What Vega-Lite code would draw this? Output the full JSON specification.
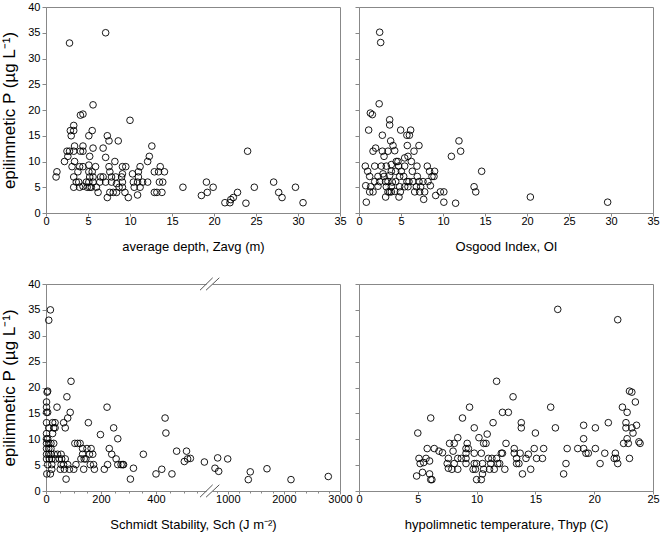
{
  "$schema": "https://vega.github.io/schema/vega-lite/v6.json",
  "padding": {"left": 0, "top": 0, "right": 0, "bottom": 0},
  "config": {
    "font": "Liberation Sans",
    "view": {"stroke": "#888888", "strokeWidth": 1},
    "axis": {"grid": false, "domainColor": "#888888", "tickColor": "#888888", "tickSize": 4, "labelFontSize": 11, "labelColor": "#000000", "titleFontSize": 13, "titleFontWeight": "normal", "titleColor": "#000000", "labelPadding": 2, "labelOverlap": false, "labelBound": false, "labelFlush": false},
    "axisX": {"tickSize": 3, "labelPadding": -1, "titlePadding": 14},
    "axisY": {"titleFontSize": 17, "titlePadding": 9},
    "point": {"shape": "circle", "size": 44, "filled": false, "stroke": "#000000", "strokeWidth": 0.9, "opacity": 1}
  },
  "datasets": {
    "a": [{"x":1.2,"y":7},{"x":1.3,"y":8},{"x":2.8,"y":33},{"x":7.1,"y":35},{"x":5.6,"y":21},{"x":4.1,"y":19},{"x":4.4,"y":19.2},{"x":10,"y":18},{"x":3.3,"y":17},{"x":2.9,"y":16},{"x":3.3,"y":16},{"x":3.0,"y":15},{"x":5.1,"y":15},{"x":5.5,"y":16},{"x":7.3,"y":15},{"x":7.5,"y":14},{"x":8.6,"y":14},{"x":5.6,"y":12.6},{"x":6.8,"y":12.6},{"x":3.4,"y":13},{"x":4.4,"y":13},{"x":12.6,"y":13},{"x":2.5,"y":12},{"x":2.8,"y":12},{"x":3.3,"y":12},{"x":4.1,"y":12},{"x":4.4,"y":12},{"x":24,"y":12},{"x":2.6,"y":11},{"x":5.2,"y":11},{"x":12.3,"y":11},{"x":7.1,"y":10.8},{"x":2.2,"y":10},{"x":3.4,"y":10},{"x":8.2,"y":10},{"x":12.1,"y":10},{"x":3.1,"y":9},{"x":4.0,"y":9},{"x":4.4,"y":9},{"x":5.1,"y":9.3},{"x":5.9,"y":9},{"x":7.5,"y":9},{"x":9.1,"y":9},{"x":9.5,"y":9},{"x":11.2,"y":9},{"x":13.6,"y":9},{"x":3.8,"y":8},{"x":5.1,"y":8},{"x":5.5,"y":8},{"x":7.6,"y":8},{"x":9.1,"y":7.6},{"x":10.3,"y":7.6},{"x":11.0,"y":8},{"x":12.9,"y":8},{"x":13.4,"y":8},{"x":14.1,"y":8},{"x":3.3,"y":7},{"x":5.2,"y":7},{"x":5.6,"y":7},{"x":6.5,"y":7},{"x":6.8,"y":7},{"x":7.8,"y":7},{"x":8.3,"y":7},{"x":9.0,"y":7},{"x":11.0,"y":7},{"x":3.6,"y":6},{"x":3.9,"y":6},{"x":4.8,"y":6},{"x":5.1,"y":6},{"x":5.6,"y":6},{"x":6.4,"y":6},{"x":7.1,"y":6},{"x":7.8,"y":6},{"x":8.4,"y":5.7},{"x":9.1,"y":6},{"x":10.4,"y":6},{"x":10.9,"y":6},{"x":11.5,"y":6},{"x":12.1,"y":6},{"x":13.5,"y":6},{"x":13.9,"y":6},{"x":27.1,"y":6},{"x":19.1,"y":6},{"x":3.3,"y":5},{"x":4.0,"y":5},{"x":4.4,"y":5.2},{"x":4.9,"y":5},{"x":5.2,"y":5},{"x":5.4,"y":5},{"x":6.0,"y":5},{"x":8.7,"y":5},{"x":9.1,"y":5},{"x":10.5,"y":5},{"x":11.2,"y":5},{"x":16.3,"y":5},{"x":19.9,"y":5},{"x":24.8,"y":5},{"x":29.7,"y":5},{"x":6.2,"y":4},{"x":7.6,"y":4},{"x":8.0,"y":4},{"x":8.4,"y":4},{"x":9.4,"y":4},{"x":12.9,"y":4},{"x":13.2,"y":4},{"x":13.8,"y":4},{"x":19.2,"y":4},{"x":22.8,"y":4},{"x":27.7,"y":4},{"x":7.3,"y":3},{"x":9.8,"y":3},{"x":18.5,"y":3.4},{"x":10.9,"y":3.5},{"x":22.3,"y":3},{"x":28.1,"y":3},{"x":22.0,"y":2.6},{"x":21.3,"y":2},{"x":21.9,"y":2},{"x":23.8,"y":1.9},{"x":30.6,"y":2}],
    "b": [{"x":2.46,"y":35.1},{"x":2.58,"y":33.1},{"x":2.4,"y":21.2},{"x":1.35,"y":19.4},{"x":1.59,"y":19.1},{"x":3.65,"y":18.1},{"x":3.65,"y":17.1},{"x":1.15,"y":16.1},{"x":4.96,"y":16.1},{"x":6.15,"y":16.1},{"x":2.78,"y":15.1},{"x":5.7,"y":15.1},{"x":6.0,"y":15.1},{"x":3.77,"y":14},{"x":11.9,"y":14},{"x":4.05,"y":13.1},{"x":5.75,"y":13.1},{"x":7.14,"y":13.1},{"x":1.98,"y":12.6},{"x":1.67,"y":12},{"x":2.78,"y":12},{"x":3.45,"y":12},{"x":4.25,"y":12.1},{"x":6.55,"y":12},{"x":12.1,"y":12},{"x":5.83,"y":11},{"x":2.98,"y":11},{"x":5.44,"y":10.7},{"x":11.0,"y":11},{"x":4.44,"y":10},{"x":4.64,"y":10},{"x":6.23,"y":10},{"x":0.75,"y":9.1},{"x":1.87,"y":9.1},{"x":2.66,"y":9.1},{"x":3.25,"y":9.1},{"x":3.85,"y":9.4},{"x":4.72,"y":9.1},{"x":5.44,"y":9.1},{"x":6.9,"y":9.1},{"x":8.13,"y":9.1},{"x":1.03,"y":8.1},{"x":2.86,"y":7.6},{"x":3.85,"y":8.1},{"x":4.37,"y":8.1},{"x":5.04,"y":8.1},{"x":6.35,"y":8.1},{"x":8.4,"y":8.1},{"x":9.0,"y":8.1},{"x":14.6,"y":8.1},{"x":1.27,"y":7.1},{"x":2.26,"y":7.1},{"x":2.98,"y":7.1},{"x":3.65,"y":7.3},{"x":4.84,"y":7.1},{"x":5.32,"y":7.1},{"x":6.94,"y":7.1},{"x":8.69,"y":7.1},{"x":8.93,"y":7.1},{"x":1.87,"y":6.1},{"x":2.46,"y":6.1},{"x":3.17,"y":6.1},{"x":3.45,"y":6.1},{"x":3.97,"y":6},{"x":4.37,"y":6.1},{"x":5.71,"y":6.1},{"x":5.95,"y":6.1},{"x":6.43,"y":6.1},{"x":7.14,"y":6.1},{"x":7.62,"y":6.1},{"x":8.21,"y":6.1},{"x":0.8,"y":5.3},{"x":1.39,"y":5.1},{"x":2.26,"y":5.2},{"x":3.25,"y":5.1},{"x":3.85,"y":5.1},{"x":4.84,"y":5.1},{"x":5.44,"y":5.1},{"x":5.83,"y":5.1},{"x":6.83,"y":5.1},{"x":7.34,"y":5.1},{"x":8.5,"y":5.3},{"x":13.7,"y":5.1},{"x":1.27,"y":4.1},{"x":1.67,"y":4.1},{"x":3.45,"y":4.1},{"x":3.65,"y":4.1},{"x":3.85,"y":4.1},{"x":4.25,"y":4.2},{"x":4.92,"y":4.1},{"x":6.63,"y":4.1},{"x":7.22,"y":4.1},{"x":7.82,"y":4.1},{"x":9.68,"y":4.1},{"x":10.1,"y":4.1},{"x":13.9,"y":4.1},{"x":3.17,"y":3.1},{"x":4.76,"y":3.1},{"x":9.13,"y":3.4},{"x":20.4,"y":3.1},{"x":7.7,"y":2.65},{"x":0.87,"y":2.1},{"x":10.1,"y":2.1},{"x":11.5,"y":1.9},{"x":29.6,"y":2.1}],
    "c": [{"x":16,"y":35},{"x":10,"y":33},{"x":6,"y":19.3},{"x":4,"y":19.1},{"x":2,"y":17.2},{"x":2,"y":16.2},{"x":2,"y":15.2},{"x":6,"y":15.2},{"x":2,"y":13.2},{"x":2,"y":11.1},{"x":2,"y":10.1},{"x":2,"y":9.2},{"x":2,"y":8.2},{"x":2,"y":7.1},{"x":2,"y":6.2},{"x":3,"y":3.3},{"x":6,"y":5.1},{"x":6,"y":10.1},{"x":10,"y":12.2},{"x":10,"y":9.2},{"x":10,"y":8.2},{"x":10,"y":7.1},{"x":12,"y":6.2},{"x":16,"y":3.3},{"x":18,"y":9.2},{"x":18,"y":8.2},{"x":18,"y":7.1},{"x":21,"y":6.2},{"x":21,"y":5.1},{"x":21,"y":4.2},{"x":24,"y":13.2},{"x":28,"y":12.2},{"x":24,"y":11.1},{"x":28,"y":9.2},{"x":30,"y":7.1},{"x":34,"y":6.2},{"x":33,"y":13.2},{"x":33,"y":12.2},{"x":40,"y":16.2},{"x":42,"y":7.1},{"x":48,"y":6.2},{"x":55,"y":7.1},{"x":55,"y":5.1},{"x":52,"y":4.2},{"x":64,"y":13.2},{"x":70,"y":12.2},{"x":76,"y":18.2},{"x":79,"y":14.1},{"x":88,"y":15.2},{"x":91,"y":21.2},{"x":57,"y":6.2},{"x":64,"y":5.1},{"x":67,"y":4.2},{"x":73,"y":2.3},{"x":70,"y":6.2},{"x":79,"y":5.1},{"x":85,"y":4.2},{"x":101,"y":4.2},{"x":105,"y":9.2},{"x":115,"y":9.2},{"x":124,"y":9.2},{"x":109,"y":5.1},{"x":127,"y":6.2},{"x":133,"y":8.2},{"x":133,"y":7.1},{"x":137,"y":4.2},{"x":139,"y":6.2},{"x":145,"y":6.2},{"x":149,"y":8.2},{"x":154,"y":13.2},{"x":158,"y":7.1},{"x":161,"y":5.1},{"x":164,"y":8.2},{"x":170,"y":7.1},{"x":173,"y":5.1},{"x":176,"y":4.2},{"x":198,"y":10.9},{"x":212,"y":4.2},{"x":222,"y":16.2},{"x":224,"y":5.1},{"x":230,"y":8.2},{"x":239,"y":7.1},{"x":246,"y":12.2},{"x":255,"y":6.2},{"x":261,"y":10.1},{"x":261,"y":5.1},{"x":273,"y":5.1},{"x":279,"y":5.1},{"x":282,"y":5.1},{"x":307,"y":2.3},{"x":318,"y":4.4},{"x":354,"y":7.1},{"x":400,"y":3.3},{"x":421,"y":4.2},{"x":433,"y":14.1},{"x":436,"y":11.2},{"x":458,"y":3.3},{"x":475,"y":7.7},{"x":503,"y":5.7},{"x":511,"y":7.7},{"x":515,"y":6.2},{"x":525,"y":6.3},{"x":576,"y":5.6},{"x":771,"y":4.4},{"x":819,"y":6.4},{"x":837,"y":3.8},{"x":998,"y":6.2},{"x":1365,"y":2.2},{"x":1400,"y":3.7},{"x":1698,"y":4.3},{"x":2126,"y":2.2},{"x":2791,"y":2.8}],
    "d": [{"x":16.9,"y":35.1},{"x":22.0,"y":33.1},{"x":11.7,"y":21.2},{"x":13.1,"y":18.2},{"x":23.0,"y":19.3},{"x":23.2,"y":19.1},{"x":23.5,"y":17.2},{"x":9.4,"y":16.2},{"x":16.3,"y":16.2},{"x":22.4,"y":16.2},{"x":12.2,"y":15.2},{"x":12.7,"y":15.2},{"x":22.8,"y":15.2},{"x":6.1,"y":14.1},{"x":8.8,"y":14.1},{"x":11.4,"y":13.2},{"x":13.8,"y":13.2},{"x":21.2,"y":13.2},{"x":19.1,"y":12.7},{"x":22.7,"y":13.2},{"x":23.6,"y":12.7},{"x":9.8,"y":12.2},{"x":13.8,"y":12.2},{"x":16.7,"y":12.2},{"x":20.1,"y":12.2},{"x":22.7,"y":12.2},{"x":23.2,"y":12.2},{"x":5.0,"y":11.2},{"x":10.9,"y":11},{"x":15.0,"y":11.2},{"x":23.3,"y":11.2},{"x":8.4,"y":10.3},{"x":10.2,"y":10.3},{"x":19.1,"y":10.1},{"x":22.8,"y":10.1},{"x":7.7,"y":9.2},{"x":8.1,"y":9.2},{"x":9.2,"y":9.2},{"x":10.6,"y":9.2},{"x":10.8,"y":9.2},{"x":12.5,"y":9.2},{"x":22.5,"y":9.2},{"x":22.9,"y":9.2},{"x":23.8,"y":9.5},{"x":23.9,"y":9.2},{"x":5.8,"y":8.2},{"x":6.4,"y":8.2},{"x":6.8,"y":7.7},{"x":7.1,"y":7.4},{"x":8.0,"y":7.7},{"x":9.1,"y":8.2},{"x":9.3,"y":8.2},{"x":13.2,"y":8.2},{"x":15.7,"y":8.2},{"x":14.9,"y":8.2},{"x":17.7,"y":8.2},{"x":18.6,"y":8.2},{"x":19.1,"y":8.2},{"x":20.1,"y":8.2},{"x":9.1,"y":7.3},{"x":9.8,"y":7.3},{"x":10.4,"y":7.3},{"x":12.1,"y":7.3},{"x":12.2,"y":7.3},{"x":13.2,"y":7.3},{"x":13.7,"y":7.3},{"x":14.4,"y":7.1},{"x":19.3,"y":7.3},{"x":19.5,"y":7.3},{"x":20.9,"y":7.3},{"x":21.8,"y":7.3},{"x":5.1,"y":6.3},{"x":5.7,"y":6.3},{"x":7.6,"y":6.3},{"x":8.4,"y":6.3},{"x":8.7,"y":6.3},{"x":9.1,"y":6.3},{"x":11.0,"y":6.3},{"x":11.3,"y":6.3},{"x":11.7,"y":6.3},{"x":13.4,"y":6.3},{"x":14.2,"y":6.3},{"x":15.1,"y":6.3},{"x":15.6,"y":6.3},{"x":21.7,"y":6.3},{"x":21.9,"y":6.3},{"x":23.0,"y":6.3},{"x":5.2,"y":5.3},{"x":5.5,"y":5.5},{"x":6.0,"y":5.8},{"x":7.5,"y":5.3},{"x":8.1,"y":5.3},{"x":9.1,"y":5.3},{"x":9.8,"y":5.3},{"x":10.0,"y":5.3},{"x":10.5,"y":5.3},{"x":11.2,"y":5.3},{"x":11.8,"y":5.3},{"x":11.96,"y":5.3},{"x":13.4,"y":5.3},{"x":13.6,"y":5.3},{"x":17.6,"y":5.3},{"x":20.5,"y":5.3},{"x":22.0,"y":5.3},{"x":7.6,"y":4.4},{"x":7.9,"y":4.2},{"x":8.4,"y":4.2},{"x":9.7,"y":4.2},{"x":9.9,"y":4.2},{"x":10.6,"y":4.2},{"x":11.1,"y":4.2},{"x":11.5,"y":4.2},{"x":12.4,"y":4.2},{"x":14.6,"y":4.2},{"x":5.4,"y":3.6},{"x":6.0,"y":3.3},{"x":10.5,"y":3.3},{"x":13.9,"y":3.3},{"x":17.4,"y":3.3},{"x":4.9,"y":2.9},{"x":6.1,"y":2.2},{"x":6.2,"y":2.2},{"x":10.0,"y":2.2},{"x":10.4,"y":2.2}],
    "gap": [{"x1":584,"x2":730,"y1":0,"y2":0},{"x1":584,"x2":730,"y1":40,"y2":40}],
    "brk": [{"x1":560,"x2":730,"y1":-1.2,"y2":1.2},{"x1":582,"x2":848,"y1":-1.2,"y2":1.2},{"x1":560,"x2":730,"y1":38.8,"y2":41.2},{"x1":582,"x2":848,"y1":38.8,"y2":41.2}]
  },
  "columns": 2,
  "spacing": {"row": 71, "column": 19},
  "bounds": "flush",
  "concat": [
    {
      "width": 294, "height": 206,
      "layer": [
        {"data": {"name": "a"}, "mark": {"type": "point"},
         "encoding": {
           "x": {"field": "x", "type": "quantitative", "scale": {"domain": [0, 35], "nice": false}, "axis": {"values": [0,5,10,15,20,25,30,35], "tickCount": 100, "format": "d", "labelOverlap": false, "title": "average depth, Zavg (m)"}},
           "y": {"field": "y", "type": "quantitative", "scale": {"domain": [0, 40], "nice": false}, "axis": {"values": [0,5,10,15,20,25,30,35,40], "tickCount": 100, "format": "d", "labelOverlap": false, "title": "epilimnetic P (µg L⁻¹)"}}}},
        {"mark": {"type": "text", "align": "left", "baseline": "middle", "fontSize": 13},
         "encoding": {"x": {"datum": 1.1}, "y": {"datum": 38}, "text": {"value": "(a)"}}}
      ]
    },
    {
      "width": 294, "height": 206,
      "layer": [
        {"data": {"name": "b"}, "mark": {"type": "point"},
         "encoding": {
           "x": {"field": "x", "type": "quantitative", "scale": {"domain": [0, 35], "nice": false}, "axis": {"values": [0,5,10,15,20,25,30,35], "tickCount": 100, "format": "d", "labelOverlap": false, "title": "Osgood Index, OI"}},
           "y": {"field": "y", "type": "quantitative", "scale": {"domain": [0, 40], "nice": false}, "axis": {"values": [0,5,10,15,20,25,30,35,40], "tickCount": 100, "labels": false, "title": null}}}},
        {"mark": {"type": "text", "align": "left", "baseline": "middle", "fontSize": 13},
         "encoding": {"x": {"datum": 0.7}, "y": {"datum": 38}, "text": {"value": "(b)"}}}
      ]
    },
    {
      "width": 294, "height": 207,
      "layer": [
        {"data": {"name": "c"}, "mark": {"type": "point"},
         "encoding": {
           "x": {"field": "x", "type": "quantitative", "scale": {"domain": [0, 600, 700, 3000], "range": [0, 165, 165, 294], "nice": false, "zero": false},
                 "axis": {"values": [0,50,100,150,200,250,300,350,400,450,500,550,800,1000,1200,1400,1600,1800,2000,2200,2400,2600,2800,3000],
                          "tickCount": 100,
                          "labelOverlap": false,
                          "labelExpr": "indexof([0,200,400,1000,2000,3000], datum.value) >= 0 ? format(datum.value, 'd') : ''",
                          "tickSize": {"condition": {"test": "indexof([0,200,400,1000,2000,3000], datum.value) >= 0", "value": 3}, "value": 2},
                          "title": "Schmidt Stability, Sch (J m⁻²)"}},
           "y": {"field": "y", "type": "quantitative", "scale": {"domain": [0, 40], "nice": false}, "axis": {"values": [0,5,10,15,20,25,30,35,40], "tickCount": 100, "format": "d", "labelOverlap": false, "title": "epilimnetic P (µg L⁻¹)"}}}},
        {"data": {"name": "gap"}, "mark": {"type": "rule", "color": "#ffffff", "strokeWidth": 3},
         "encoding": {"x": {"field": "x1", "type": "quantitative"}, "x2": {"field": "x2"}, "y": {"field": "y1", "type": "quantitative"}, "y2": {"field": "y2"}}},
        {"data": {"name": "brk"}, "mark": {"type": "rule", "color": "#555555", "strokeWidth": 1},
         "encoding": {"x": {"field": "x1", "type": "quantitative"}, "x2": {"field": "x2"}, "y": {"field": "y1", "type": "quantitative"}, "y2": {"field": "y2"}}},
        {"mark": {"type": "text", "align": "left", "baseline": "middle", "fontSize": 13},
         "encoding": {"x": {"datum": 36}, "y": {"datum": 38}, "text": {"value": "(c)"}}}
      ]
    },
    {
      "width": 294, "height": 207,
      "layer": [
        {"data": {"name": "d"}, "mark": {"type": "point"},
         "encoding": {
           "x": {"field": "x", "type": "quantitative", "scale": {"domain": [0, 25], "nice": false}, "axis": {"values": [0,5,10,15,20,25], "tickCount": 100, "format": "d", "labelOverlap": false, "title": "hypolimnetic temperature, Thyp (C)"}},
           "y": {"field": "y", "type": "quantitative", "scale": {"domain": [0, 40], "nice": false}, "axis": {"values": [0,5,10,15,20,25,30,35,40], "tickCount": 100, "labels": false, "title": null}}}},
        {"mark": {"type": "text", "align": "left", "baseline": "middle", "fontSize": 13},
         "encoding": {"x": {"datum": 0.85}, "y": {"datum": 38}, "text": {"value": "(d)"}}}
      ]
    }
  ]
}
